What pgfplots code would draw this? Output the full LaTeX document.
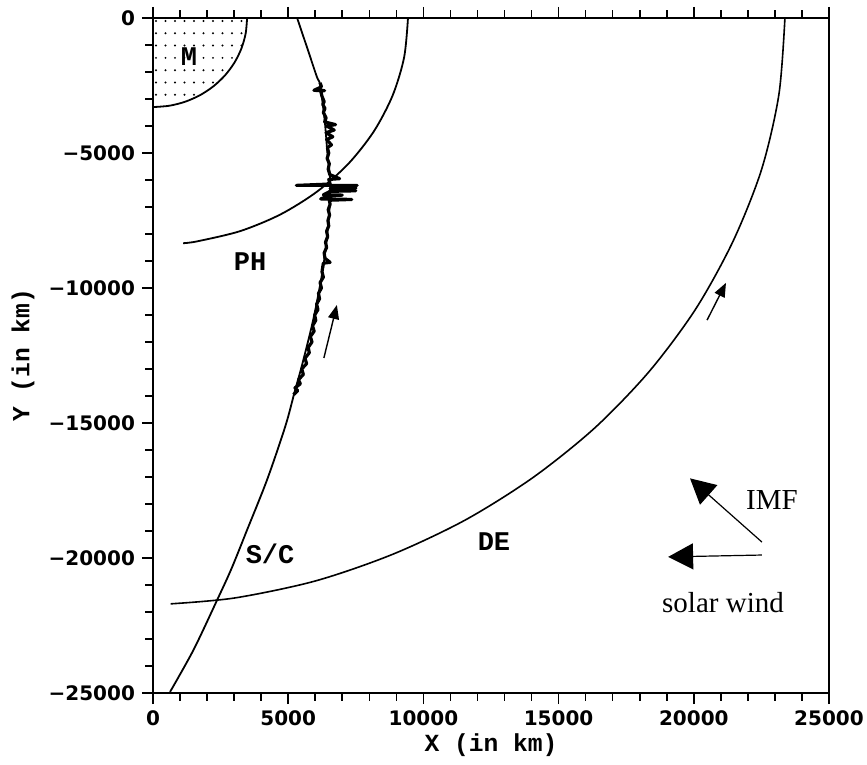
\documentclass[border=0pt]{standalone}
\usepackage{fontspec}
\usepackage{pgfplots}
\pgfplotsset{compat=1.18}
\usetikzlibrary{patterns,arrows.meta}
\newfontfamily\tickfont{DejaVu Sans}
\newfontfamily\labfont{Liberation Mono}
\newfontfamily\serfont{Liberation Serif}
% sparse dot fill for the M region
\pgfdeclarepatternformonly{sparsedots}{\pgfqpoint{-1pt}{-1pt}}{\pgfqpoint{5.75pt}{7.15pt}}{\pgfqpoint{4.75pt}{6.15pt}}{%
  \pgfpathcircle{\pgfqpoint{2pt}{3pt}}{0.55pt}\pgfusepath{fill}}

\begin{document}
\begin{tikzpicture}
\begin{axis}[
    width=338pt, height=337.5pt, scale only axis,
    xmin=0, xmax=25000, ymin=-25000, ymax=0,
    xtick={0,5000,10000,15000,20000,25000},
    ytick={-25000,-20000,-15000,-10000,-5000,0},
    xticklabels={0,5000,10000,15000,20000,25000},
    yticklabels={−25000,−20000,−15000,−10000,−5000,0},
    scaled ticks=false,
    minor tick num=4,
    tick align=outside,
    xtick pos=both, xticklabel pos=bottom,
    ytick pos=left,
    major tick length=5.5pt, minor tick length=3.8pt,
    tick style={line width=0.8pt, black},
    axis line style={line width=1pt},
    ticklabel style={font=\tickfont\bfseries\fontsize{10}{12}\selectfont},
    xlabel={X (in km)}, ylabel={Y (in km)},
    label style={font=\labfont\bfseries\fontsize{12.3}{14}\selectfont},
    xlabel style={at={([yshift=-26pt]axis description cs:0.5,0)}, anchor=center},
    ylabel style={at={([xshift=-65pt]axis description cs:0,0.5)}, anchor=center},
]
\coordinate (sw) at (rel axis cs:0,0);
\coordinate (ne) at (rel axis cs:1,1);

% M region
\addplot[draw=none, pattern=sparsedots] coordinates {
  (0,0)(3480,0)(3427,-573)(3270,-1129)(3014,-1650)(2666,-2121)(2237,-2528)
  (1740,-2858)(1190,-3101)(604,-3250)(0,-3300)} -- cycle;
\addplot[line width=0.9pt, smooth] coordinates {
  (3480,0)(3427,-573)(3270,-1129)(3014,-1650)(2666,-2121)(2237,-2528)
  (1740,-2858)(1190,-3101)(604,-3250)(0,-3300)};

% PH
\addplot[line width=0.9pt, smooth] coordinates {
  (9430,0)(9287,-1459)(8861,-2873)(8167,-4200)(7224,-5400)(6061,-6435)
  (4715,-7275)(3225,-7893)(1637,-8272)(1117,-8341)};

% DE
\addplot[line width=0.8pt, smooth] coordinates {
  (23370,0)(23147,-2836)(22506,-5612)(21451,-8269)(20067,-10783)
  (18344,-13100)(16325,-15194)(14040,-17029)(11538,-18599)(8844,-19871)
  (6003,-20851)(3038,-21478)(651,-21698)};

% S/C trajectory
\addplot[line width=0.9pt, smooth] coordinates {
  (5330,0)(5690,-1070)(6060,-2180)(6180,-2480)(6350,-3800)(6450,-5000)
  (6550,-6000)(6530,-7000)(6400,-8400)(6250,-9500)(5920,-11200)(5500,-12900)
  (5250,-13800)(4900,-15100)(4220,-17100)(3480,-18960)(2900,-20400)
  (2370,-21560)(1500,-23400)(630,-24960)};

% measured track along S/C
\addplot[line width=1.6pt, line join=round] coordinates {
  (6180,-2400)(6230,-2550)(5950,-2680)(6350,-2690)(6200,-2700)(6250,-2900)
  (6330,-3100)(6280,-3200)(6360,-3350)(6300,-3500)(6400,-3700)(6350,-3850)
  (6750,-3950)(6420,-4000)(6700,-4150)(6400,-4250)(6650,-4400)(6420,-4500)
  (6600,-4700)(6450,-4800)(6500,-5000)(6440,-5200)(6520,-5400)(6480,-5600)
  (6540,-5800)(6900,-5950)(6500,-5980)(6550,-6150)
  (5300,-6200)(7550,-6200)(6550,-6230)(7500,-6300)(6550,-6320)(7500,-6400)
  (6550,-6420)(6300,-6550)(7000,-6560)(6550,-6580)(6200,-6700)(7350,-6720)
  (6520,-6750)(6550,-6900)(6480,-7100)(6530,-7300)(6470,-7500)(6500,-7700)
  (6420,-7900)(6460,-8100)(6380,-8300)(6420,-8500)(6330,-8700)(6360,-8900)
  (6550,-9050)(6300,-9080)(6250,-9400)(6300,-9600)(6180,-9800)(6230,-10000)
  (6120,-10200)(6160,-10400)(6050,-10600)(6100,-10800)(5980,-11000)
  (6020,-11200)(5900,-11400)(5960,-11600)(5820,-11800)(5880,-12000)
  (5740,-12200)(5780,-12400)(5620,-12600)(5680,-12800)(5500,-13000)
  (5560,-13200)(5380,-13400)(5450,-13550)(5250,-13700)(5350,-13800)(5200,-13950)};

% direction arrows
\addplot[line width=0.7pt, -{Triangle[length=7pt,width=5.5pt]}] coordinates {(6320,-12590)(6800,-10630)};
\addplot[line width=0.7pt, -{Triangle[length=7pt,width=5.5pt]}] coordinates {(20490,-11190)(21190,-9810)};
\addplot[line width=0.6pt, -{Triangle[length=12.5pt,width=13pt]}] coordinates {(22520,-19410)(19860,-17050)};
\addplot[line width=0.6pt, -{Triangle[length=12.5pt,width=13pt]}] coordinates {(22520,-19890)(19050,-19960)};

\node[font=\labfont\bfseries\fontsize{13.5}{15}\selectfont] at (axis cs:1330,-1440) {M};
\node[font=\labfont\bfseries\fontsize{13.5}{15}\selectfont] at (axis cs:3590,-9040) {PH};
\node[font=\labfont\bfseries\fontsize{13.5}{15}\selectfont] at (axis cs:4330,-19850) {S/C};
\node[font=\labfont\bfseries\fontsize{13.5}{15}\selectfont] at (axis cs:12610,-19400) {DE};
\node[font=\serfont\fontsize{14.5}{16}\selectfont] at (axis cs:22890,-17850) {IMF};
\node[font=\serfont\fontsize{14.5}{16}\selectfont] at (axis cs:21080,-21650) {solar wind};
\end{axis}
\pgfresetboundingbox
\path ([shift={(-76.5pt,-36pt)}]sw) rectangle ([shift={(19pt,9pt)}]ne);
\end{tikzpicture}
\end{document}
